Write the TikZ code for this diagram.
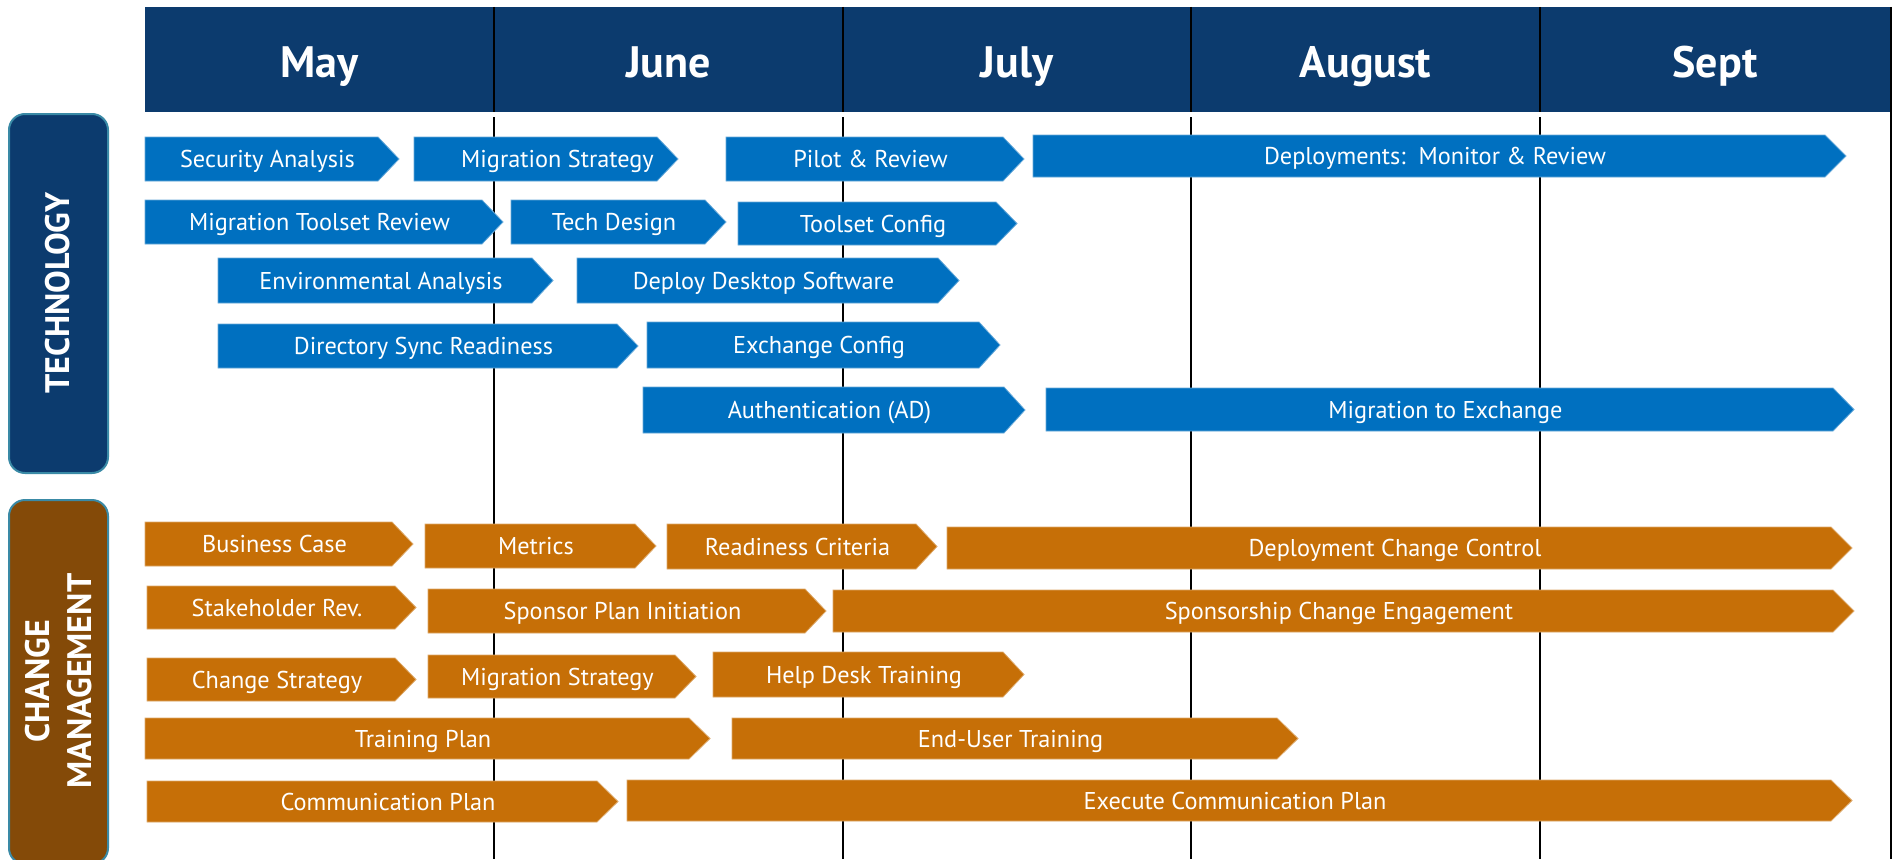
\documentclass[tikz,border=0pt]{standalone}
\usepackage{fontspec}
\setmainfont{PT Sans}
\definecolor{navy}{HTML}{0C3B6E}
\definecolor{laneedge}{HTML}{3A8AA6}
\definecolor{techblue}{HTML}{0070C0}
\definecolor{cmorange}{HTML}{C66F07}
\definecolor{cmbrown}{HTML}{844A08}
% one timeline bar: [label shift], name, left x, tip x, top y, bottom y, style, label
\newcommand\tlbar[8][0]{%
  \path[#7] (#3,#5) -- ({#4-21},#5) -- (#4,{(#5+#6)/2}) -- ({#4-21},#6) -- (#3,#6) -- cycle;
  \node[bartext] (#2) at ({(#3+#4-21)/2+6+#1},{(#5+#6)/2}) {#8};
}
\begin{document}
\begin{tikzpicture}[x=1pt,y=-1pt]
\tikzset{
  hdr/.style={font=\bfseries\fontsize{44}{44}\selectfont, text=white, inner sep=0pt, text height=30.5pt, text depth=0pt},
  bartext/.style={font=\fontsize{24.3}{25}\selectfont, text=white, inner sep=0pt, text height=17pt, text depth=0pt},
  lanetext/.style={font=\bfseries\fontsize{34}{42}\selectfont, text=white, rotate=90, align=center, inner sep=0pt},
  techbar/.style={fill=techblue, draw=techblue!60!white, line width=0.8pt},
  cmbar/.style={fill=cmorange, draw=cmorange!60!white, line width=0.8pt},
  gridline/.style={black, line width=2pt},
  lane/.style={rounded corners=16pt, line width=2pt, draw=laneedge},
}
\useasboundingbox (0,0) rectangle (1894,859);
\fill[white] (0,0) rectangle (1894,859);

% month header band
\fill[navy] (145,7) rectangle (1890,112);
\foreach \x in {494,843,1191,1540} {
  \draw[gridline] (\x,7) -- (\x,112);
  \draw[gridline] (\x,117) -- (\x,859);
}
\draw[gridline] (1891,7) -- (1891,859);
\node[hdr] (may)  at (319.5,62) {May};
\node[hdr] (june) at (668.5,62) {June};
\node[hdr] (july) at (1017,62) {July};
\node[hdr] (aug)  at (1365.5,62) {August};
\node[hdr] (sep)  at (1715,62) {Sept};

% swim-lane labels
\draw[lane, fill=navy] (9,114) rectangle (108,473);
\node[lanetext] (tech) at (58,293) {TECHNOLOGY};
\draw[lane, fill=cmbrown] (9,500) rectangle (108,864);
\node[lanetext] (cm) at (59,681) {CHANGE\\MANAGEMENT};

% technology activities
\tlbar{secan}{145}{399}{137}{181}{techbar}{Security Analysis}
\tlbar[16]{migstrat}{414}{678}{137}{181}{techbar}{Migration Strategy}
\tlbar{pilot}{726}{1024}{137}{181}{techbar}{Pilot \& Review}
\tlbar{deploy}{1033}{1846}{135}{177}{techbar}{Deployments:\ \ Monitor \& Review}
\tlbar{toolrev}{145}{503}{200}{244}{techbar}{Migration Toolset Review}
\tlbar{techdes}{511}{726}{200}{244}{techbar}{Tech Design}
\tlbar{toolcfg}{738}{1017}{202}{245}{techbar}{Toolset Config}
\tlbar{envan}{218}{553}{258}{303}{techbar}{Environmental Analysis}
\tlbar{desktop}{577}{959}{258}{303}{techbar}{Deploy Desktop Software}
\tlbar{dirsync}{218}{638}{324}{368}{techbar}{Directory Sync Readiness}
\tlbar{exchcfg}{647}{1000}{322}{368}{techbar}{Exchange Config}
\tlbar{auth}{643}{1025}{387}{433}{techbar}{Authentication (AD)}
\tlbar{migex}{1046}{1854}{388}{431}{techbar}{Migration to Exchange}

% change management activities
\tlbar{buscase}{145}{413}{522}{566}{cmbar}{Business Case}
\tlbar{metrics}{425}{656}{524}{568}{cmbar}{Metrics}
\tlbar{readiness}{667}{937}{524}{569}{cmbar}{Readiness Criteria}
\tlbar{depcc}{947}{1852}{527}{569}{cmbar}{Deployment Change Control}
\tlbar{stake}{147}{416}{586}{629}{cmbar}{Stakeholder Rev.}
\tlbar{sponsor}{428}{826}{589}{633}{cmbar}{Sponsor Plan Initiation}
\tlbar{sponseng}{833}{1854}{590}{632}{cmbar}{Sponsorship Change Engagement}
\tlbar{chstrat}{147}{416}{658}{701}{cmbar}{Change Strategy}
\tlbar{cmmig}{428}{696}{655}{698}{cmbar}{Migration Strategy}
\tlbar{helpdesk}{713}{1024}{652}{697}{cmbar}{Help Desk Training}
\tlbar{trainplan}{145}{710}{718}{759}{cmbar}{Training Plan}
\tlbar{euser}{732}{1298}{718}{759}{cmbar}{End-User Training}
\tlbar[10]{commplan}{147}{618}{781}{822}{cmbar}{Communication Plan}
\tlbar{execcomm}{627}{1852}{780}{821}{cmbar}{Execute Communication Plan}
\end{tikzpicture}
\end{document}
